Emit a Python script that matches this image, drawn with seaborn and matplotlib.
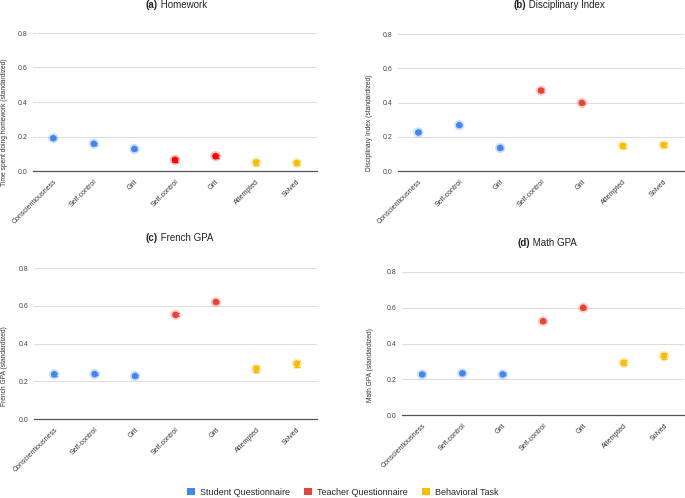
import numpy as np
import pandas as pd
import matplotlib.pyplot as plt
from matplotlib.patches import Patch
import seaborn as sns

# -------------------------------------------------
# DATA
# -------------------------------------------------
measures = ["Conscientiousness", "Self-control", "Grit", "Self-control", "Grit", "Attempted", "Solved"]
sources = ["Student Questionnaire"] * 3 + ["Teacher Questionnaire"] * 2 + ["Behavioral Task"] * 2

homework = [0.190, 0.158, 0.128, 0.065, 0.086, 0.050, 0.047]
homework_err = [0.006, 0.006, 0.006, 0.010, 0.008, 0.014, 0.013]

disciplinary = [0.225, 0.268, 0.135, 0.470, 0.398, 0.147, 0.152]
disciplinary_err = [0.006, 0.006, 0.006, 0.006, 0.006, 0.013, 0.013]

french = [0.237, 0.238, 0.228, 0.552, 0.620, 0.265, 0.293]
french_err = [0.007, 0.007, 0.007, 0.007, 0.006, 0.015, 0.015]

math_gpa = [0.227, 0.233, 0.227, 0.525, 0.600, 0.292, 0.330]
math_err = [0.006, 0.006, 0.006, 0.006, 0.006, 0.015, 0.015]

panels = [
    ("(a)", "Homework", "Time spent doing homework (standardized)", homework, homework_err),
    ("(b)", "Disciplinary Index", "Disciplinary Index (standardized)", disciplinary, disciplinary_err),
    ("(c)", "French GPA", "French GPA (standardized)", french, french_err),
    ("(d)", "Math GPA", "Math GPA (standardized)", math_gpa, math_err),
]

palette = {
    "Student Questionnaire": "#4285F4",
    "Teacher Questionnaire": "#EA4335",
    "Behavioral Task": "#FBBC04",
}
# panel (a) uses a plain red for the teacher points
teacher_reds = ["#FF0000", "#EA4335", "#EA4335", "#EA4335"]

# layout in pixels: axes (left, top, right, bottom), title (x, y), ylabel x
W, H = 685, 498
layout = [
    ((33, 33, 317, 171), (158, 5), 8),
    ((398, 34, 684, 171), (526, 5), 373),
    ((34, 268, 317, 419), (158, 238), 8),
    ((402, 272, 684, 415), (530, 243), 374),
]

sns.set_theme(style="white")
plt.rcParams["font.family"] = ["Liberation Sans", "DejaVu Sans"]

fig = plt.figure(figsize=(6.85, 4.98), dpi=100)

for (tag, title, ylab, vals, errs), ((l, t, r, b), (tx, ty), lx), red in zip(panels, layout, teacher_reds):
    ax = fig.add_axes([l / W, 1 - b / H, (r - l) / W, (b - t) / H])
    df = pd.DataFrame({"pos": np.arange(len(measures)), "value": vals,
                       "err": errs, "source": sources})
    pal = dict(palette, **{"Teacher Questionnaire": red})

    for src, sub in df.groupby("source"):
        ax.errorbar(sub["pos"], sub["value"], yerr=sub["err"], fmt="none",
                    ecolor=pal[src], elinewidth=1.0, capsize=2.5, capthick=1.0, zorder=2)

    # soft halo behind points
    sns.scatterplot(data=df, x="pos", y="value", hue="source", palette=pal,
                    s=55, alpha=0.25, linewidth=0, legend=False, ax=ax, zorder=3)
    sns.scatterplot(data=df, x="pos", y="value", hue="source", palette=pal,
                    s=22, linewidth=0, legend=False, ax=ax, zorder=4)

    ax.set_xlim(-0.5, len(measures) - 0.5)
    ax.set_ylim(0, 0.8)
    ax.set_yticks([0.0, 0.2, 0.4, 0.6, 0.8])
    ax.set_yticklabels(["0.0", "0.2", "0.4", "0.6", "0.8"], fontsize=5, color="#444444")
    ax.set_xticks(range(len(measures)))
    ax.set_xticklabels(measures, rotation=45, ha="right", rotation_mode="anchor",
                       fontsize=5, color="#333333")
    ax.tick_params(axis="y", length=0, pad=4)
    ax.tick_params(axis="x", length=0, pad=5)
    ax.grid(axis="y", color="#dddddd", linewidth=0.8)
    ax.set_axisbelow(True)
    for s in ["top", "right", "left"]:
        ax.spines[s].set_visible(False)
    ax.spines["bottom"].set_color("#555555")
    ax.spines["bottom"].set_linewidth(0.9)
    ax.set_xlabel("")
    ax.set_ylabel(ylab, fontsize=4.8, color="#333333")
    ax.yaxis.set_label_coords((lx - l) / (r - l), 0.35)

    fig.text(tx / W, 1 - ty / H, tag, fontsize=7, fontweight="bold", color="#222222",
             ha="right", va="center")
    fig.text(tx / W, 1 - ty / H, " " + title, fontsize=7, color="#222222",
             ha="left", va="center")

handles = [Patch(facecolor=c, edgecolor="none", label=k) for k, c in palette.items()]
fig.legend(handles=handles, loc="center", bbox_to_anchor=(0.5, 0.012), ncol=3,
           frameon=False, fontsize=6.5, handlelength=0.9, handleheight=0.9,
           columnspacing=1.6, handletextpad=0.5)

fig.savefig("out.png", dpi=100)
